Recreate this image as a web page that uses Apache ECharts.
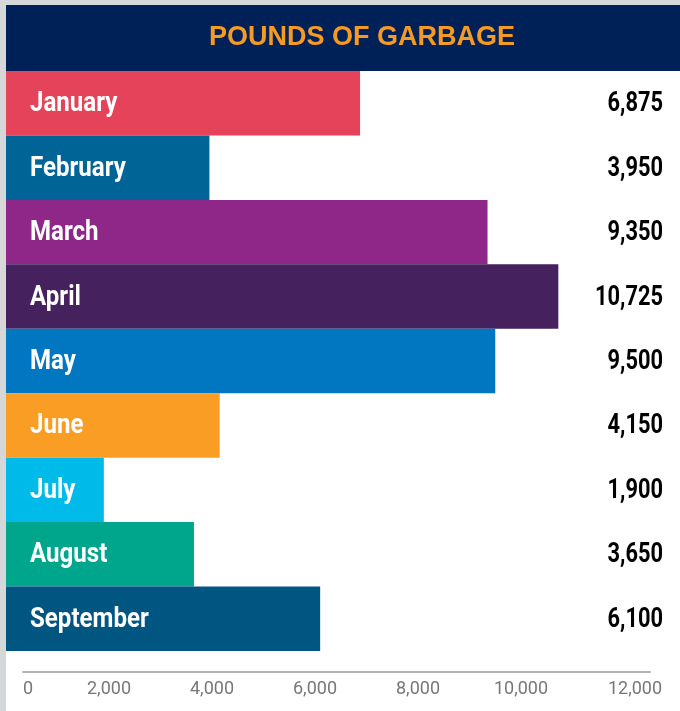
<!DOCTYPE html>
<html lang="en">
<head>
    <meta charset="UTF-8">
    <title>Pounds of Garbage</title>
    <script src="https://cdn.jsdelivr.net/npm/echarts@6/dist/echarts.min.js"></script>
</head>
<body style="margin:0;background:#d6d7d9;">
<div style="position:absolute;left:6px;top:5px;width:674px;height:706px;background:#ffffff;">
    <div id="bars" style="width: 100%;height: 100%;"></div>
</div>
</body>
<script>
    var months = ['January', 'February', 'March', 'April', 'May', 'June', 'July', 'August', 'September'];
    var pounds = [6875, 3950, 9350, 10725, 9500, 4150, 1900, 3650, 6100];
    var barColors = ['#e4435a', '#006496', '#8e2787', '#45225e', '#0077c0', '#f99d25', '#00bbea', '#00a68b', '#005581'];
    var xTicks = [0, 2000, 4000, 6000, 8000, 10000, 12000];

    function fmt(v) {
        return v.toLocaleString('en-US');
    }

    drawChart();

    function drawChart() {
        var myChart = echarts.init(document.getElementById('bars'));

        var list = pounds.map(function (v, i) {
            return {value: v, itemStyle: {color: barColors[i]}};
        });
        var labelData = pounds.map(function (v, i) {
            return [v, i];
        });
        var axisMax = xTicks[xTicks.length - 1];

        // condensed look: Roboto bold squeezed horizontally
        function squeezed(x, y, text, color, align, sx) {
            return {
                type: 'text',
                x: x,
                y: y,
                scaleX: sx,
                style: {
                    text: text,
                    fill: color,
                    fontFamily: 'Roboto',
                    fontWeight: 'bold',
                    fontSize: 28,
                    align: align,
                    verticalAlign: 'middle'
                }
            };
        }

        var option = {
            animation: false,
            graphic: [{
                type: 'rect',
                left: 0,
                top: 0,
                shape: {width: 674, height: 66},
                style: {fill: '#002058'}
            }],
            title: {
                text: 'POUNDS OF GARBAGE',
                left: 351,
                top: 14,
                textAlign: 'center',
                textStyle: {
                    color: '#f59a23',
                    fontFamily: '"Liberation Sans", Arial, sans-serif',
                    fontWeight: 'bold',
                    fontSize: 27
                }
            },
            grid: [
                {left: 0, top: 66, width: 618, height: 580},
                {left: 17, top: 666, width: 627, height: 1}
            ],
            xAxis: [{
                gridIndex: 0,
                type: 'value',
                min: 0,
                max: axisMax,
                interval: 2000,
                splitLine: {show: false},
                axisLine: {show: false},
                axisTick: {show: false},
                axisLabel: {
                    margin: 29,
                    color: '#777777',
                    fontFamily: 'Roboto, sans-serif',
                    fontSize: 18,
                    formatter: function (v) {
                        if (v === xTicks[0]) return '{first|' + fmt(v) + '}';
                        if (v === axisMax) return '{last|' + fmt(v) + '}';
                        return fmt(v);
                    },
                    rich: {
                        first: {color: '#777777', fontFamily: 'Roboto, sans-serif', fontSize: 18, padding: [0, 0, 0, 44]},
                        last: {color: '#777777', fontFamily: 'Roboto, sans-serif', fontSize: 18, padding: [0, 0, 0, 22]}
                    }
                }
            }, {
                gridIndex: 1,
                type: 'value',
                min: 0,
                max: 1,
                splitLine: {show: false},
                axisTick: {show: false},
                axisLabel: {show: false},
                axisLine: {lineStyle: {color: '#b3b3b3', width: 2}}
            }],
            yAxis: [{
                gridIndex: 0,
                type: 'category',
                inverse: true,
                data: months,
                show: false
            }, {
                gridIndex: 1,
                type: 'value',
                show: false
            }],
            series: [{
                name: 'Pounds of garbage',
                type: 'bar',
                xAxisIndex: 0,
                yAxisIndex: 0,
                barCategoryGap: 0,
                data: list
            }, {
                name: 'labels',
                type: 'custom',
                xAxisIndex: 0,
                yAxisIndex: 0,
                z: 5,
                silent: true,
                renderItem: function (params, api) {
                    var idx = api.value(1);
                    var start = api.coord([0, idx]);
                    var end = api.coord([axisMax, idx]);
                    return {
                        type: 'group',
                        children: [
                            squeezed(start[0] + 24, start[1] + 1, months[idx], '#ffffff', 'left', 0.86),
                            squeezed(end[0] + 39, end[1] + 1, fmt(pounds[idx]), '#000000', 'right', 0.78)
                        ]
                    };
                },
                data: labelData
            }]
        };

        myChart.setOption(option);
    }
</script>
</html>
